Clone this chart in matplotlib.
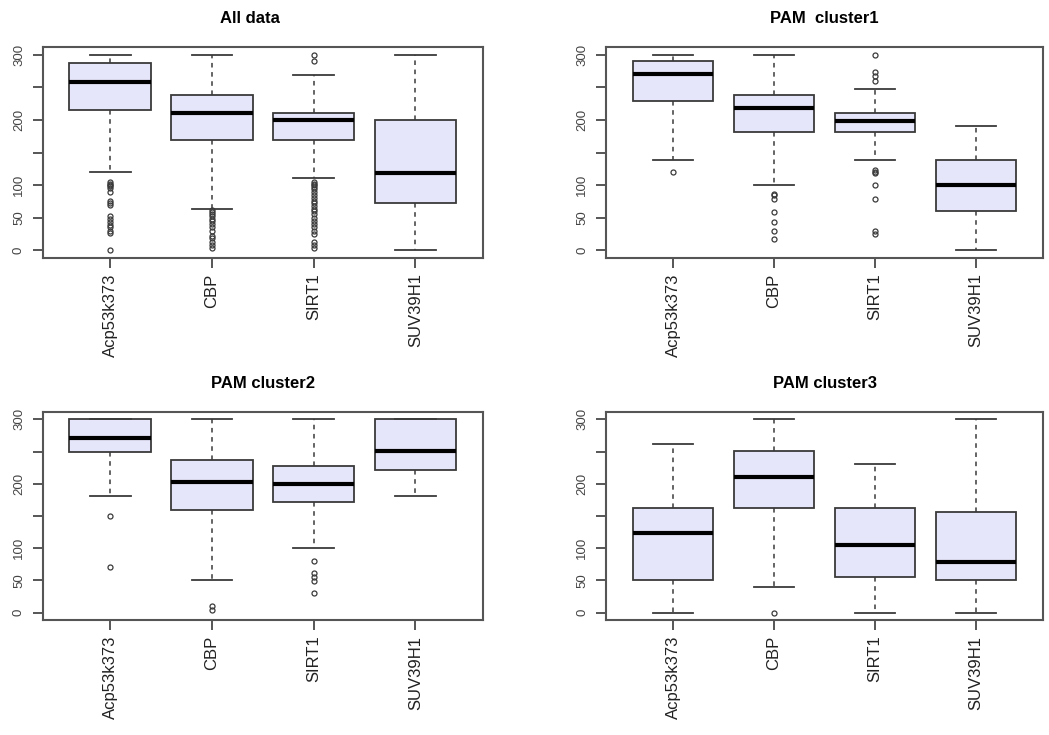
import matplotlib
matplotlib.use('Agg')
import matplotlib.pyplot as plt

plt.rcParams['font.family'] = ['Liberation Sans', 'DejaVu Sans']

categories = ['Acp53k373', 'CBP', 'SIRT1', 'SUV39H1']
titles = ['All data', 'PAM  cluster1', 'PAM cluster2', 'PAM cluster3']

# summary stats, one list per panel
all_med = [258, 210, 200, 119]
all_q1 = [216, 169, 169, 73]
all_q3 = [287, 239, 210, 200]
all_lo = [120, 64, 111, 0]
all_hi = [300, 300, 269, 300]
all_fliers = [[105, 102, 100, 98, 95, 90, 75, 72, 70, 52, 48, 44, 38, 35, 30, 26, 0],
              [62, 58, 55, 52, 48, 45, 40, 35, 30, 22, 18, 12, 8, 4],
              [300, 290, 105, 102, 100, 97, 94, 90, 85, 80, 76, 72, 68, 64, 60, 55,
               50, 45, 40, 35, 30, 25, 12, 8, 4],
              []]

c1_med = [270, 218, 199, 100]
c1_q1 = [229, 181, 181, 60]
c1_q3 = [290, 239, 210, 138]
c1_lo = [138, 100, 138, 0]
c1_hi = [300, 300, 248, 190]
c1_fliers = [[120],
             [87, 84, 79, 58, 43, 30, 17],
             [300, 273, 268, 260, 123, 120, 118, 100, 79, 30, 25],
             []]

c2_med = [271, 203, 200, 251]
c2_q1 = [250, 159, 171, 222]
c2_q3 = [300, 237, 227, 300]
c2_lo = [181, 50, 100, 181]
c2_hi = [300, 300, 300, 300]
c2_fliers = [[150, 71], [11, 4], [80, 62, 56, 49, 30], []]

c3_med = [124, 210, 105, 79]
c3_q1 = [50, 162, 56, 50]
c3_q3 = [163, 251, 162, 156]
c3_lo = [0, 40, 0, 0]
c3_hi = [261, 300, 231, 300]
c3_fliers = [[], [0], [], []]

panels = [
    (all_med, all_q1, all_q3, all_lo, all_hi, all_fliers),
    (c1_med, c1_q1, c1_q3, c1_lo, c1_hi, c1_fliers),
    (c2_med, c2_q1, c2_q3, c2_lo, c2_hi, c2_fliers),
    (c3_med, c3_q1, c3_q3, c3_lo, c3_hi, c3_fliers),
]

yticks = [0, 50, 100, 150, 200, 250, 300]
ylabels = ['0', '50', '100', '', '200', '', '300']

fig = plt.figure(figsize=(10.49, 7.35), dpi=100)
positions = [[0.041, 0.649, 0.419, 0.287],
             [0.578, 0.649, 0.416, 0.287],
             [0.041, 0.156, 0.419, 0.284],
             [0.578, 0.156, 0.416, 0.284]]
title_x = [0.47, 0.5, 0.5, 0.5]

edge = '#3a3a3a'
for i, (med, q1, q3, lo, hi, fl) in enumerate(panels):
    ax = fig.add_axes(positions[i])
    stats = []
    for j in range(4):
        stats.append({'med': med[j], 'q1': q1[j], 'q3': q3[j],
                      'whislo': lo[j], 'whishi': hi[j], 'fliers': fl[j],
                      'label': categories[j]})
    ax.bxp(stats, positions=[1, 2, 3, 4], widths=0.8, patch_artist=True,
           boxprops=dict(facecolor='#e6e6fa', edgecolor=edge, linewidth=1.3),
           medianprops=dict(color='black', linewidth=3, solid_capstyle='butt'),
           whiskerprops=dict(color=edge, linestyle=(0, (3, 3)), linewidth=1.1),
           capprops=dict(color=edge, linewidth=1.3),
           capwidths=0.4,
           flierprops=dict(marker='o', markersize=3.6, markerfacecolor='none',
                           markeredgecolor=edge, markeredgewidth=0.9))
    ax.set_xlim(0.34, 4.66)
    ax.set_ylim(-12, 312)
    ax.set_yticks(yticks)
    ax.set_yticklabels(ylabels, rotation=90, va='center', fontsize=9.5, color='#444444')
    ax.set_xticks([1, 2, 3, 4])
    ax.set_xticklabels(categories, rotation=90, fontsize=12, color='#222222')
    ax.tick_params(axis='both', direction='out', length=7, width=1.2, color=edge)
    ax.tick_params(axis='x', pad=4)
    ax.tick_params(axis='y', pad=6)
    for s in ax.spines.values():
        s.set_color('#555555')
        s.set_linewidth(1.5)
    ax.set_title(titles[i], fontsize=12, fontweight='bold', pad=17, x=title_x[i])

fig.savefig('out.png', dpi=100)
